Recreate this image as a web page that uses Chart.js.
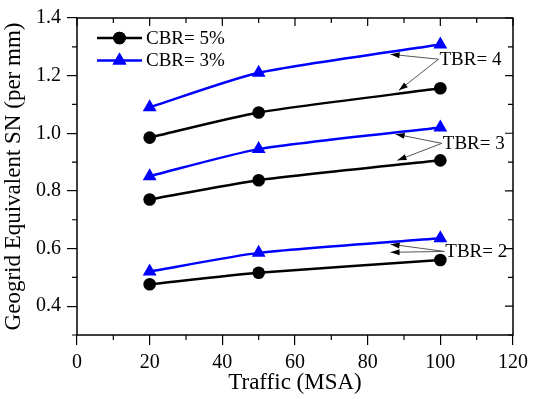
<!DOCTYPE html>
<html lang="en">
<head>
  <meta charset="UTF-8">
  <title>Geogrid Equivalent SN vs Traffic</title>
  <script src="https://cdn.jsdelivr.net/npm/chart.js"></script>
  <style>
    html, body { margin: 0; padding: 0; background: #fff; }
    #wrap { width: 534px; height: 399px; position: relative; }
  </style>
</head>
<body>
  <div id="wrap"><canvas id="chart" width="534" height="399"></canvas></div>
  <script>
    // traffic levels (MSA)
    const traffic = [20, 50, 100];

    // CBR = 5% (black circles)
    const cbr5_tbr4 = [0.985, 1.072, 1.156];
    const cbr5_tbr3 = [0.770, 0.837, 0.906];
    const cbr5_tbr2 = [0.476, 0.516, 0.560];

    // CBR = 3% (blue triangles)
    const cbr3_tbr4 = [1.090, 1.210, 1.308];
    const cbr3_tbr3 = [0.851, 0.945, 1.020];
    const cbr3_tbr2 = [0.520, 0.585, 0.636];

    const xTicks = [0, 20, 40, 60, 80, 100, 120];
    const yTicks = [0.4, 0.6, 0.8, 1.0, 1.2, 1.4];

    // TBR callouts: label anchor and the two arrow tips, in data units
    const tbrLabels = ['TBR= 4', 'TBR= 3', 'TBR= 2'];
    const tbrAnchor = [[99.5, 1.257], [100.4, 0.965], [101.1, 0.590]];
    const tbrTipsBlue = [[86.3, 1.274], [87.7, 0.997], [86.3, 0.615]];
    const tbrTipsBlack = [[88.6, 1.149], [88.2, 0.906], [86.3, 0.587]];

    const legendNames = ['CBR= 5%', 'CBR= 3%'];

    const FONT = '"Liberation Serif", "Times New Roman", serif';

    function pts(ys) {
      return traffic.map((x, i) => ({ x: x, y: ys[i] }));
    }

    function blackSet(ys, label) {
      return {
        label: label, data: pts(ys),
        borderColor: '#000', backgroundColor: '#000',
        borderWidth: 2.5, pointStyle: 'circle', pointRadius: 6.3,
        pointBorderWidth: 0, tension: 0.22
      };
    }
    function blueSet(ys, label) {
      return {
        label: label, data: pts(ys),
        borderColor: '#0000ff', backgroundColor: '#0000ff',
        borderWidth: 2.5, pointStyle: 'triangle', pointRadius: 8,
        pointBorderWidth: 0, tension: 0.22
      };
    }

    // frame, minor ticks, legend and TBR callouts
    const decor = {
      id: 'decor',
      afterDraw(chart) {
        const ctx = chart.ctx;
        const xs = chart.scales.x, ys = chart.scales.y;
        const a = chart.chartArea;
        ctx.save();
        ctx.strokeStyle = '#000';
        ctx.lineWidth = 1.5;
        ctx.strokeRect(a.left, a.top, a.right - a.left, a.bottom - a.top);

        ctx.lineWidth = 1.2;
        ctx.beginPath();
        for (let v = 0; v <= 120; v += 10) {
          const px = xs.getPixelForValue(v);
          const major = v % 20 === 0;
          if (!major) { ctx.moveTo(px, a.bottom); ctx.lineTo(px, a.bottom + 5); }
          ctx.moveTo(px, a.top); ctx.lineTo(px, a.top + (major ? 8 : 5));
        }
        for (let k = 3; k <= 14; k++) {
          const v = k / 10;
          const py = ys.getPixelForValue(v);
          const major = k % 2 === 0;
          if (!major) { ctx.moveTo(a.left, py); ctx.lineTo(a.left - 5, py); }
          ctx.moveTo(a.right, py); ctx.lineTo(a.right - (major ? 8 : 5), py);
        }
        ctx.stroke();

        // legend
        const rows = [chart.data.datasets[0], chart.data.datasets[3]];
        rows.forEach((ds, i) => {
          const y = a.top + 20 + i * 22.5;
          ctx.strokeStyle = ds.borderColor;
          ctx.lineWidth = 2.5;
          ctx.beginPath();
          ctx.moveTo(a.left + 20, y); ctx.lineTo(a.left + 65, y);
          ctx.stroke();
          ctx.fillStyle = ds.backgroundColor;
          Chart.helpers.drawPoint(ctx, { pointStyle: ds.pointStyle, radius: ds.pointRadius, borderWidth: 0 }, a.left + 42.5, y);
          ctx.fill();
          ctx.fillStyle = '#000';
          ctx.font = '19px ' + FONT;
          ctx.textAlign = 'left';
          ctx.textBaseline = 'middle';
          ctx.fillText(legendNames[i], a.left + 69, y + 1);
        });

        // callouts
        tbrLabels.forEach((txt, i) => {
          const ax = xs.getPixelForValue(tbrAnchor[i][0]);
          const ay = ys.getPixelForValue(tbrAnchor[i][1]);
          [tbrTipsBlue[i], tbrTipsBlack[i]].forEach(t => {
            const tx = xs.getPixelForValue(t[0]);
            const ty = ys.getPixelForValue(t[1]);
            const ang = Math.atan2(ty - ay, tx - ax);
            ctx.strokeStyle = '#555';
            ctx.lineWidth = 1;
            ctx.beginPath();
            ctx.moveTo(ax, ay); ctx.lineTo(tx, ty);
            ctx.stroke();
            ctx.fillStyle = '#000';
            ctx.beginPath();
            ctx.moveTo(tx, ty);
            ctx.lineTo(tx - 9 * Math.cos(ang) + 3 * Math.sin(ang), ty - 9 * Math.sin(ang) - 3 * Math.cos(ang));
            ctx.lineTo(tx - 9 * Math.cos(ang) - 3 * Math.sin(ang), ty - 9 * Math.sin(ang) + 3 * Math.cos(ang));
            ctx.closePath();
            ctx.fill();
          });
          ctx.fillStyle = '#000';
          ctx.font = '19px ' + FONT;
          ctx.textAlign = 'left';
          ctx.textBaseline = 'middle';
          ctx.fillText(txt, ax + 1, ay + 1);
        });
        ctx.restore();
      }
    };

    new Chart(document.getElementById('chart'), {
      type: 'line',
      data: {
        datasets: [
          blackSet(cbr5_tbr4, 'CBR= 5%'),
          blackSet(cbr5_tbr3, 'CBR= 5%'),
          blackSet(cbr5_tbr2, 'CBR= 5%'),
          blueSet(cbr3_tbr4, 'CBR= 3%'),
          blueSet(cbr3_tbr3, 'CBR= 3%'),
          blueSet(cbr3_tbr2, 'CBR= 3%')
        ]
      },
      options: {
        responsive: false,
        animation: false,
        layout: { padding: { top: 11, right: 17, left: 0, bottom: 0 } },
        plugins: { legend: { display: false }, tooltip: { enabled: false } },
        scales: {
          x: {
            type: 'linear', min: 0, max: 120,
            afterBuildTicks: s => { s.ticks = xTicks.map(v => ({ value: v })); },
            afterFit: s => { s.height = 64; },
            ticks: { color: '#000', padding: 6, maxRotation: 0, font: { family: FONT, size: 20 } },
            grid: { drawOnChartArea: false, tickLength: 10, color: '#000', lineWidth: 1.2 },
            border: { display: false },
            title: { display: true, text: 'Traffic (MSA)', color: '#000', font: { family: FONT, size: 23 }, padding: { top: 0, bottom: 2 } }
          },
          y: {
            type: 'linear', min: 0.3, max: 1.4,
            afterBuildTicks: s => { s.ticks = yTicks.map(v => ({ value: v })); },
            afterFit: s => { s.width = 77; },
            ticks: { color: '#000', padding: 6, font: { family: FONT, size: 20 }, callback: v => v.toFixed(1) },
            grid: { drawOnChartArea: false, tickLength: 10, color: '#000', lineWidth: 1.2 },
            border: { display: false },
            title: { display: true, text: 'Geogrid Equivalent SN (per mm)', color: '#000', font: { family: FONT, size: 23 }, padding: { top: 0, bottom: 0 } }
          }
        }
      },
      plugins: [decor]
    });
  </script>
</body>
</html>
